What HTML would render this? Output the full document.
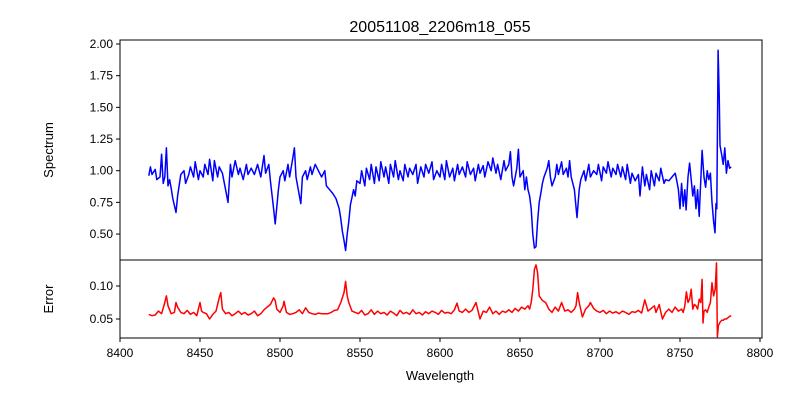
<!DOCTYPE html>
<html><head><meta charset="utf-8"><style>
body{margin:0;background:#fff;}
svg{display:block;font-family:"Liberation Sans","DejaVu Sans",sans-serif;}
</style></head><body>
<svg id="chart" width="800" height="400" viewBox="0 0 800 400">
<rect width="800" height="400" fill="#fff"/>
<text x="440" y="32" font-size="16" text-anchor="middle">20051108_2206m18_055</text>
<text transform="translate(53,150) rotate(-90)" font-size="13" text-anchor="middle">Spectrum</text>
<text transform="translate(53,299) rotate(-90)" font-size="13" text-anchor="middle">Error</text>
<text x="440" y="380" font-size="13" text-anchor="middle">Wavelength</text>
<g id="g"></g>
</svg>
<script>
const xTicks=[8400,8450,8500,8550,8600,8650,8700,8750,8800];
const specTicks=[0.50,0.75,1.00,1.25,1.50,1.75,2.00];
const errTicks=[0.05,0.10];
const specWave=[8418,8419,8420,8422,8423,8425,8426,8427,8428,8429,8430,8431,8432,8433,8435,8436,8438,8440,8441,8443,8444,8446,8447,8449,8450,8452,8453,8455,8456,8458,8459,8461,8462,8464,8466,8467.5,8469,8470,8472,8474,8475,8477,8479,8480,8482,8484,8486,8488,8490,8491,8493,8494,8496,8497,8499,8500,8502,8503,8505,8506,8508,8509,8510,8511,8513,8514,8516,8517,8519,8520,8522,8524,8526,8528,8529,8531,8533,8535,8537,8538,8539,8540,8541,8542,8543,8544,8546,8547,8548,8550,8551,8553,8554,8556,8557,8559,8560,8562,8563,8565,8566,8568,8569,8571,8572,8574,8575,8577,8578,8580,8581,8583,8585,8586,8588,8590,8591,8593,8595,8596,8598,8600,8601,8603,8604,8606,8608,8609,8611,8612,8614,8616,8617,8619,8621,8622,8624,8625,8627,8628,8630,8632,8633,8635,8636,8638,8640,8641,8643,8644,8645,8646,8648,8649,8650,8652,8653,8654,8655,8656,8657,8658,8659,8660,8661,8662,8663,8664,8665,8667,8668,8669,8670,8672,8673,8674,8676,8677,8679,8680,8681,8682,8684,8685.6,8687,8688,8690,8691,8693,8694,8696,8698,8699,8701,8702,8704,8705,8707,8708,8710,8711,8713,8714,8716,8717,8719,8720,8722,8724,8725,8726.5,8728,8729,8731,8732,8734,8735,8737,8738,8740,8741,8743,8745,8747,8748,8749,8750,8751,8752,8753,8753.8,8755,8756,8757,8758,8759,8760,8761,8762,8763.8,8765,8766,8767,8768,8769,8770,8771,8771.9,8772.5,8773,8773.8,8774.5,8775,8776,8777,8778,8779,8780,8781,8782];
const specFlux=[0.96,1.03,0.97,1.01,0.93,0.95,1.13,0.90,0.95,1.18,0.88,0.93,0.86,0.78,0.67,0.80,0.97,1.00,0.90,0.97,1.03,0.95,1.07,0.93,1.00,0.95,1.05,0.97,1.09,0.92,1.08,0.95,1.03,0.98,0.85,0.75,1.05,0.95,1.08,0.97,1.02,0.93,1.05,0.97,1.02,0.97,1.05,0.95,1.12,0.98,1.05,0.92,0.70,0.58,0.85,0.95,1.00,0.92,1.05,0.95,1.10,1.18,0.95,0.88,0.74,0.95,1.00,0.93,1.03,0.97,1.05,1.00,0.95,1.00,0.88,0.85,0.82,0.78,0.70,0.62,0.52,0.45,0.37,0.50,0.60,0.73,0.85,0.80,0.92,0.90,1.00,0.88,1.02,0.93,1.05,0.90,1.03,0.92,1.07,0.95,1.03,0.90,1.05,0.95,1.08,0.93,1.00,0.92,1.05,0.95,1.02,0.97,1.05,0.90,1.03,0.95,1.05,0.98,1.07,0.93,1.00,0.95,1.05,0.93,1.08,0.95,1.02,0.92,1.05,0.97,1.03,0.95,1.07,0.97,1.02,0.92,1.05,0.98,1.04,0.95,1.07,1.00,1.10,0.98,1.05,0.93,1.08,1.00,1.05,1.15,0.95,0.88,1.02,1.17,0.95,1.00,0.85,0.95,0.85,0.80,0.70,0.50,0.39,0.40,0.60,0.75,0.82,0.90,0.95,1.02,1.08,0.95,0.88,0.95,1.05,0.97,1.07,0.97,1.02,0.95,1.08,0.95,0.85,0.63,0.85,0.93,1.00,0.92,1.05,0.95,1.00,0.97,1.05,0.92,1.03,0.98,1.07,0.95,1.02,0.97,1.05,0.95,1.03,0.93,1.05,0.90,0.98,0.92,0.97,0.80,1.03,0.88,0.97,0.85,1.00,0.88,0.98,0.92,1.02,0.90,0.93,0.92,0.95,0.98,0.92,0.85,0.70,0.90,0.72,0.85,0.69,0.95,1.06,0.93,0.80,0.88,0.70,0.85,0.64,1.16,0.95,0.87,1.00,0.93,0.98,0.75,0.60,0.51,0.74,0.70,1.95,1.60,1.20,1.13,1.05,1.18,0.98,1.08,1.02,1.03];
const errWave=[8418,8420,8422,8424,8426,8428,8429,8430,8432,8434,8435,8436,8438,8440,8442,8444,8446,8448,8450,8451,8452,8454,8456,8458,8460,8462,8463,8464,8466,8468,8470,8472,8474,8476,8478,8480,8482,8484,8486,8488,8490,8492,8494,8496,8497,8498,8500,8502,8502.5,8504,8506,8508,8510,8512,8514,8516,8518,8520,8522,8524,8526,8528,8530,8532,8534,8536,8538,8540,8541,8542,8543,8545,8547,8549,8551,8553,8555,8557,8559,8561,8563,8565,8567,8569,8571,8573,8575,8577,8579,8581,8583,8585,8587,8589,8591,8593,8595,8597,8599,8601,8603,8605,8607,8609,8610.6,8612,8614,8616,8618,8620,8622.5,8624,8625,8627,8629,8631,8633,8635,8637,8639,8641,8643,8645,8647,8649,8651,8653,8655,8656,8657,8658,8659,8660,8661,8662,8664,8666,8668,8670,8672,8674,8676,8678,8680,8682,8684,8685,8686,8687,8689,8691,8693,8694,8696,8698,8700,8702,8704,8706,8708,8710,8712,8714,8716,8718,8720,8722,8724,8726,8728,8730,8732,8734,8735,8737,8739,8741,8743,8745,8747,8749,8751,8752,8753,8754,8755,8756,8757,8758,8759,8760,8761,8762,8763,8763.8,8764.4,8765,8766,8767,8768,8769,8770,8771,8772,8772.8,8773.4,8774,8775,8776,8777,8778,8779,8780,8781,8782];
const errVals=[0.057,0.055,0.056,0.062,0.058,0.075,0.085,0.070,0.058,0.060,0.075,0.068,0.060,0.058,0.063,0.057,0.060,0.055,0.075,0.062,0.060,0.058,0.050,0.057,0.062,0.082,0.090,0.065,0.058,0.060,0.055,0.058,0.062,0.057,0.060,0.056,0.058,0.062,0.055,0.058,0.064,0.068,0.072,0.082,0.078,0.065,0.060,0.070,0.077,0.060,0.057,0.058,0.060,0.064,0.058,0.067,0.060,0.058,0.057,0.059,0.058,0.058,0.058,0.060,0.063,0.064,0.075,0.090,0.107,0.085,0.075,0.062,0.060,0.058,0.063,0.056,0.058,0.064,0.057,0.062,0.058,0.060,0.056,0.062,0.059,0.055,0.063,0.058,0.060,0.057,0.064,0.058,0.060,0.056,0.061,0.058,0.062,0.060,0.057,0.063,0.059,0.060,0.058,0.064,0.074,0.062,0.060,0.065,0.060,0.063,0.075,0.060,0.050,0.062,0.060,0.068,0.058,0.062,0.057,0.062,0.060,0.064,0.060,0.066,0.062,0.068,0.065,0.070,0.065,0.075,0.095,0.125,0.132,0.120,0.085,0.078,0.075,0.065,0.060,0.068,0.062,0.075,0.062,0.064,0.060,0.065,0.070,0.090,0.075,0.053,0.065,0.070,0.075,0.066,0.062,0.060,0.063,0.058,0.062,0.059,0.061,0.058,0.062,0.060,0.057,0.061,0.060,0.063,0.059,0.079,0.062,0.066,0.070,0.060,0.072,0.050,0.060,0.065,0.060,0.068,0.062,0.065,0.060,0.070,0.091,0.075,0.080,0.095,0.065,0.072,0.070,0.065,0.080,0.075,0.110,0.044,0.062,0.064,0.060,0.068,0.075,0.105,0.085,0.095,0.135,0.023,0.040,0.045,0.048,0.048,0.050,0.050,0.052,0.054,0.055];

const L=120,R=762,T1=40,B1=260,B2=338;
const xs=w=>120+(w-8400)*1.6;
const ySpec=v=>44+(2.0-v)*126.7;
const yErr=v=>286+(0.10-v)*660;
const NS="http://www.w3.org/2000/svg";
const g=document.getElementById('g');
function mk(tag,attrs,parent){const e=document.createElementNS(NS,tag);for(const k in attrs)e.setAttribute(k,attrs[k]);(parent||g).appendChild(e);return e;}

// series
const sp=mk('polyline',{points:specWave.map((w,i)=>xs(w).toFixed(1)+','+ySpec(specFlux[i]).toFixed(1)).join(' '),fill:'none',stroke:'#0000ff','stroke-width':1.5,'stroke-linejoin':'round'});


const er=mk('polyline',{points:errWave.map((w,i)=>xs(w).toFixed(1)+','+yErr(errVals[i]).toFixed(1)).join(' '),fill:'none',stroke:'#ff0000','stroke-width':1.5,'stroke-linejoin':'round'});



// frames
const f1=mk('rect',{x:L,y:T1,width:R-L,height:B1-T1,fill:'none',stroke:'#000','stroke-width':1});


const f2=mk('rect',{x:L,y:B1,width:R-L,height:B2-B1,fill:'none',stroke:'#000','stroke-width':1});



// x ticks
xTicks.forEach(t=>{
  const x=xs(t);
  mk('line',{x1:x,x2:x,y1:B2,y2:B2+4,stroke:'#000'});
  const tx=mk('text',{x:x,y:B2+19,'font-size':12,'text-anchor':'middle'});
  tx.textContent=t;
  
  
});
specTicks.forEach(t=>{
  const y=ySpec(t);
  mk('line',{x1:L-4,x2:L,y1:y,y2:y,stroke:'#000'});
  const tx=mk('text',{x:L-7,y:y+4,'font-size':12,'text-anchor':'end'});
  tx.textContent=t.toFixed(2);
  
  
});
errTicks.forEach(t=>{
  const y=yErr(t);
  mk('line',{x1:L-4,x2:L,y1:y,y2:y,stroke:'#000'});
  const tx=mk('text',{x:L-7,y:y+4,'font-size':12,'text-anchor':'end'});
  tx.textContent=t.toFixed(2);
  
  
});
</script>
</body></html>
